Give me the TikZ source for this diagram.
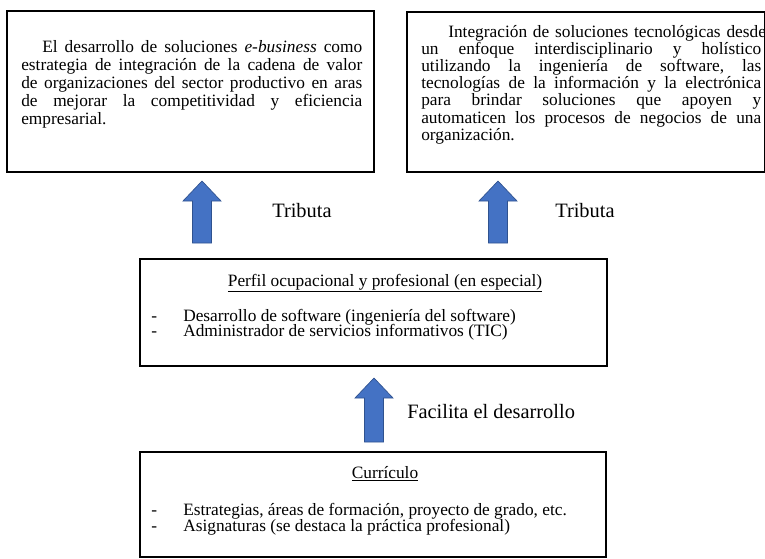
\documentclass[tikz,border=0pt]{standalone}
\usepackage{fontspec}
\setmainfont{Liberation Serif}
\usetikzlibrary{calc}
\definecolor{arrowblue}{HTML}{4472C4}
\definecolor{arrowedge}{HTML}{2F528F}
\newcommand\blockup[2]{%
  \draw[blockarrow] ($(#2)+(-9.5,0)$) -- ($(#1)+(-9.5,20)$) -- ($(#1)+(-19,20)$) -- (#1)
    -- ($(#1)+(19,20)$) -- ($(#1)+(9.5,20)$) -- ($(#2)+(9.5,0)$) -- cycle;}
\newcommand\jl[2]{\leavevmode\hbox to #1{#2}}
\newcommand\tightlines{\lineskiplimit=-100pt\relax}
\begin{document}
\begin{tikzpicture}[x=0.75pt,y=-0.75pt,
  box/.style={draw=black,line width=1.2pt,rectangle,inner sep=0pt,anchor=north west},
  body/.style={font=\fontsize{13}{13.5}\selectfont,inner sep=0pt,anchor=base west,align=left},
  tight/.style={font=\fontsize{13}{12.9}\selectfont,inner sep=0pt,anchor=base west,align=left},
  item/.style={font=\fontsize{13}{13.5}\selectfont,inner sep=0pt,anchor=base west},
  head/.style={font=\fontsize{13}{13.5}\selectfont,inner sep=0pt,anchor=base},
  lbl/.style={font=\fontsize{15.3}{18}\selectfont,inner sep=0pt,anchor=base west},
  blockarrow/.style={fill=arrowblue,draw=arrowedge,line width=0.5pt,line join=miter}]
\useasboundingbox (0,0) rectangle (765,558);
% boxes
\node[box,minimum width=367*0.75pt,minimum height=161*0.75pt] (b1) at (6,10) {};
\node[box,minimum width=358*0.75pt,minimum height=160*0.75pt] (b2) at (406,11) {};
\node[box,minimum width=467*0.75pt,minimum height=107*0.75pt] (mid) at (139,258) {};
\node[box,minimum width=466*0.75pt,minimum height=105*0.75pt] (cur) at (139,451) {};
% box 1 text
\node[body,text width=255.75pt] (t1) at (21,52) {\tightlines
\hspace*{15.75pt}\jl{240pt}{El \hfill desarrollo \hfill de \hfill soluciones \hfill \textit{e-business} \hfill como}\\
\jl{255.75pt}{estrategia \hfill de \hfill integración \hfill de \hfill la \hfill cadena \hfill de \hfill valor}\\
\jl{255.75pt}{de \hfill organizaciones \hfill del \hfill sector \hfill productivo \hfill en \hfill aras}\\
\jl{255.75pt}{de \hfill mejorar \hfill la \hfill competitividad \hfill y \hfill eficiencia}\\
empresarial.};
% box 2 text
\node[tight,text width=255pt] (t2) at (421,37) {\tightlines
\hspace*{20.25pt}\jl{234.75pt}{Integración \hfill de \hfill soluciones \hfill tecnológicas \hfill desde}\\
\jl{255pt}{un \hfill enfoque \hfill interdisciplinario \hfill y \hfill holístico}\\
\jl{255pt}{utilizando \hfill la \hfill ingeniería \hfill de \hfill software, \hfill las}\\
\jl{255pt}{tecnologías \hfill de \hfill la \hfill información \hfill y \hfill la \hfill electrónica}\\
\jl{255pt}{para \hfill brindar \hfill soluciones \hfill que \hfill apoyen \hfill y}\\
\jl{255pt}{automaticen \hfill los \hfill procesos \hfill de \hfill negocios \hfill de \hfill una}\\
organización.};
% middle box text
\node[head] (h1) at (385,286) {\underline{Perfil ocupacional y profesional (en especial)}};
\node[item] (d1) at (151,321) {-};
\node[item] (i1) at (183,321) {Desarrollo de software (ingeniería del software)};
\node[item] (d2) at (151,336) {-};
\node[item] (i2) at (183,336) {Administrador de servicios informativos (TIC)};
% bottom box text
\node[head] (h2) at (385,478) {\underline{Currículo}};
\node[item] (d3) at (151,515) {-};
\node[item] (i3) at (183,515) {Estrategias, áreas de formación, proyecto de grado, etc.};
\node[item] (d4) at (151,531) {-};
\node[item] (i4) at (183,531) {Asignaturas (se destaca la práctica profesional)};
% arrows
\coordinate (a1t) at (202,181);
\coordinate (a1b) at (202,243);
\coordinate (a2t) at (498,181);
\coordinate (a2b) at (498,243);
\coordinate (a3t) at (374,378);
\coordinate (a3b) at (374,442);
\blockup{a1t}{a1b}
\blockup{a2t}{a2b}
\blockup{a3t}{a3b}
% labels
\node[lbl] (l1) at (272,217) {Tributa};
\node[lbl] (l2) at (555,217) {Tributa};
\node[lbl] (l3) at (407,418) {Facilita el desarrollo};
\end{tikzpicture}
\end{document}
